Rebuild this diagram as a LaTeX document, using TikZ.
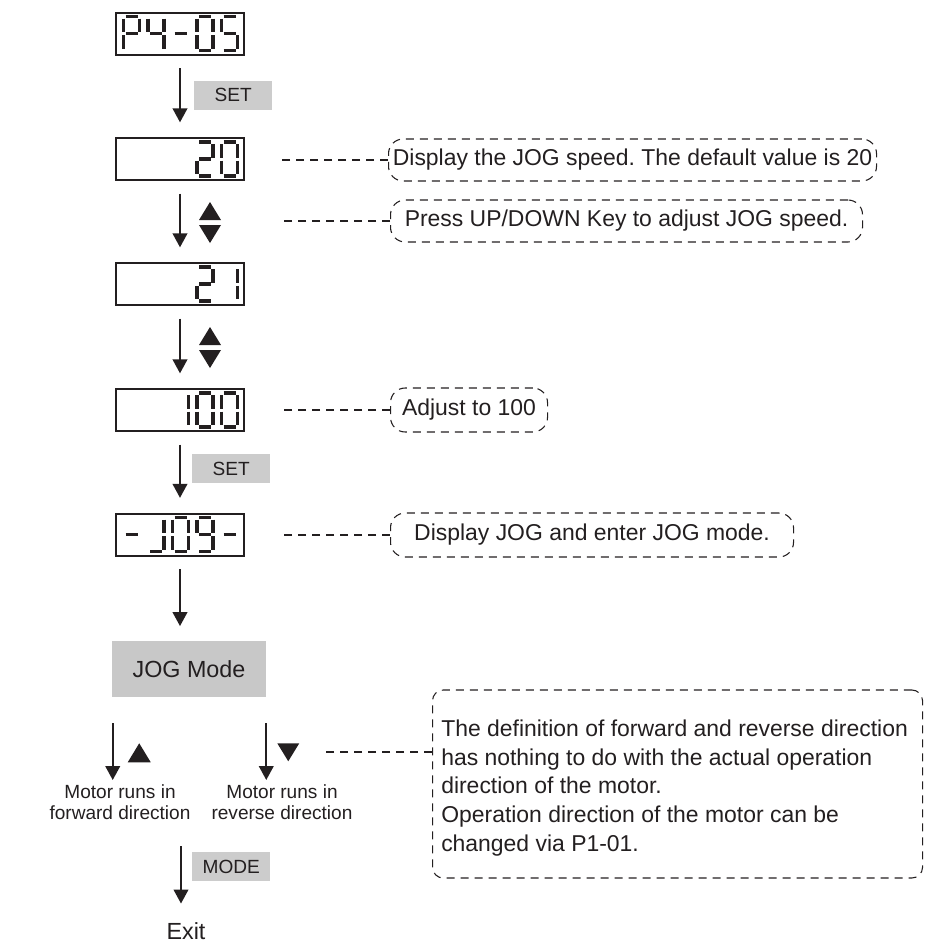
\documentclass[tikz,border=0pt]{standalone}
\usepackage{fontspec}
\setmainfont{Liberation Sans}
\usetikzlibrary{arrows.meta, positioning, calc}
\definecolor{inkText}{HTML}{231F20}
\definecolor{keyFill}{HTML}{CCCCCC}
\definecolor{modeFill}{HTML}{C8C8C8}
\frenchspacing

% seven-segment pieces of one cell (16 x 34 px, centre lines)
\newcommand{\lcdsega}{(2,0) -- (14,0)}
\newcommand{\lcdsegb}{(16,2) -- (16,15.5)}
\newcommand{\lcdsegc}{(16,18.5) -- (16,32)}
\newcommand{\lcdsegd}{(2,34) -- (14,34)}
\newcommand{\lcdsege}{(0,18.5) -- (0,32)}
\newcommand{\lcdsegf}{(0,2) -- (0,15.5)}
\newcommand{\lcdsegg}{(2,17) -- (14,17)}
\newcommand{\lcdpiece}[3]{\draw[lcdseg, shift={(#2,#3)}] #1;}
\newcommand{\lcdcell}[3]{%
  \foreach \s in {#3}{\expandafter\lcdpiece\csname lcdseg\s\endcsname{#1}{#2}}}
\newcommand{\updown}[1]{%
  \fill[inkText, shift={($(#1.south)+(30,30)$)}] (-11,9) -- (11,9) -- (0,-9) -- cycle;
  \fill[inkText, shift={($(#1.south)+(30,53)$)}] (-11,-9) -- (11,-9) -- (0,9) -- cycle;}

\begin{document}
\begin{tikzpicture}[
  x=0.75pt, y=-0.75pt,
  font=\fontsize{17.2}{21.4}\selectfont, color=inkText,
  lcd/.style    ={draw=inkText, line width=1.5pt, minimum width=96pt, minimum height=31.5pt, inner sep=0pt},
  lcdseg/.style ={draw=inkText, line width=2.6pt},
  key/.style    ={fill=keyFill, minimum width=58.5pt, minimum height=21.75pt, inner sep=0pt,
                  font=\fontsize{14.3}{16}\selectfont},
  modebox/.style={fill=modeFill, minimum width=115.5pt, minimum height=42pt, inner sep=0pt,
                  font=\fontsize{17.5}{21}\selectfont},
  callout/.style={draw=inkText, dash pattern=on 6pt off 4.5pt, line width=0.8pt,
                  rounded corners=11pt, minimum height=31.5pt, inner sep=0pt},
  lead/.style   ={draw=inkText, dash pattern=on 6pt off 4.5pt, line width=0.8pt},
  flow/.style   ={-{Triangle[length=10.5pt, width=11pt]}, draw=inkText, line width=1.5pt,
                  shorten <=9.5pt, shorten >=11pt},
  note/.style   ={align=center, inner sep=0pt, font=\fontsize{14.3}{16.2}\selectfont},
]
\useasboundingbox (0,0) rectangle (933,943);

% ----- Displays -----
\node[lcd] (dP) at (180,33.5) {};
\lcdcell{123.5}{16.5}{a,b,f,g,e}
\lcdcell{148}{16.5}{f,g,b,c}
\lcdcell{172.5}{16.5}{g}
\lcdcell{197}{16.5}{a,b,c,d,e,f}
\lcdcell{221.5}{16.5}{a,f,g,c,d}

\node[lcd] (dA) at (180,159) {};
\lcdcell{197}{142}{a,b,g,e,d}
\lcdcell{221.5}{142}{a,b,c,d,e,f}

\node[lcd] (dB) at (180,284) {};
\lcdcell{197}{267}{a,b,g,e,d}
\lcdcell{221.5}{267}{b,c}

\node[lcd] (dC) at (180,410) {};
\lcdcell{172.5}{393}{b,c}
\lcdcell{197}{393}{a,b,c,d,e,f}
\lcdcell{221.5}{393}{a,b,c,d,e,f}

\node[lcd] (dD) at (180,534.5) {};
\lcdcell{123.5}{517.5}{g}
\lcdcell{148}{517.5}{b,c,d}
\lcdcell{172.5}{517.5}{a,b,c,d,e,f}
\lcdcell{197}{517.5}{a,b,c,d,f,g}
\lcdcell{221.5}{517.5}{g}

% ----- Main spine -----
\draw[flow] (dP.south) -- (dA.north);
\node[key, anchor=west] (kSet) at ($(dP.south)+(14,39.5)$) {SET};
\draw[flow] (dA.south) -- (dB.north);
\updown{dA}
\draw[flow] (dB.south) -- (dC.north);
\updown{dB}
\draw[flow] (dC.south) -- (dD.north);
\node[key, anchor=west] (kSetB) at ($(dC.south)+(12,36.5)$) {SET};

\node[modebox] (jogm) at (189,669) {JOG Mode};
\draw[flow] (dD.south) -- (dD.south |- jogm.north);

% ----- Callouts -----
\node[callout, anchor=west, minimum width=366pt] (cSpeed) at (388,160)
  {Display the JOG speed. The default value is 20};
\node[callout, anchor=west, minimum width=354pt] (cKeys) at (390,221)
  {Press UP/DOWN Key to adjust JOG speed.};
\node[callout, anchor=west, minimum width=117.75pt, minimum height=33pt] (cHundred) at (390,410)
  {Adjust to 100};
\node[callout, anchor=west, minimum width=302.25pt, minimum height=33pt] (cJog) at (390,535)
  {Display JOG and enter JOG mode.};
\draw[lead] (cSpeed.west) -- ++(-110,0);
\draw[lead] (cKeys.west) -- ++(-112,0);
\draw[lead] (cHundred.west) -- ++(-112,0);
\draw[lead] (cJog.west) -- ++(-112,0);

% ----- Forward / reverse branches -----
\coordinate (fwdTop) at ($(jogm.south west)+(1,26)$);
\coordinate (revTop) at ($(jogm.south east)+(0,26)$);
\node[note, anchor=north] (fwdLbl) at (120,784) {Motor runs in\\forward direction};
\node[note, anchor=north] (revLbl) at (282,784) {Motor runs in\\reverse direction};
\draw[flow, shorten <=0pt, shorten >=3pt] (fwdTop) -- (fwdTop |- fwdLbl.north);
\draw[flow, shorten <=0pt, shorten >=3pt] (revTop) -- (revTop |- revLbl.north);
\fill[inkText, shift={($(fwdTop)+(26.5,29.5)$)}] (-11.5,9.5) -- (11.5,9.5) -- (0,-9.5) -- cycle;
\fill[inkText, shift={($(revTop)+(22,29)$)}] (-11,-9) -- (11,-9) -- (0,9) -- cycle;

\node[callout, anchor=west, minimum width=367.5pt, minimum height=141pt,
      rounded corners=8pt] (cDir) at (432,784) {};
\node[anchor=west, align=left, inner sep=0pt] (cDirText) at (441,788)
  {The definition of forward and reverse direction\\
   has nothing to do with the actual operation\\
   direction of the motor.\\
   Operation direction of the motor can be\\
   changed via P1-01.};
\draw[lead] ($(cDir.west)+(0,-32)$) -- ++(-112,0);

% ----- Exit -----
\coordinate (modeTop) at (181,846);
\node[inner sep=0pt, font=\fontsize{17.5}{21}\selectfont] (exit) at (186,931) {Exit};
\draw[flow, shorten <=0pt, shorten >=14pt] (modeTop) -- (modeTop |- exit.north);
\node[key, anchor=west] (kMode) at ($(modeTop)+(11,20.5)$) {MODE};

\end{tikzpicture}
\end{document}
